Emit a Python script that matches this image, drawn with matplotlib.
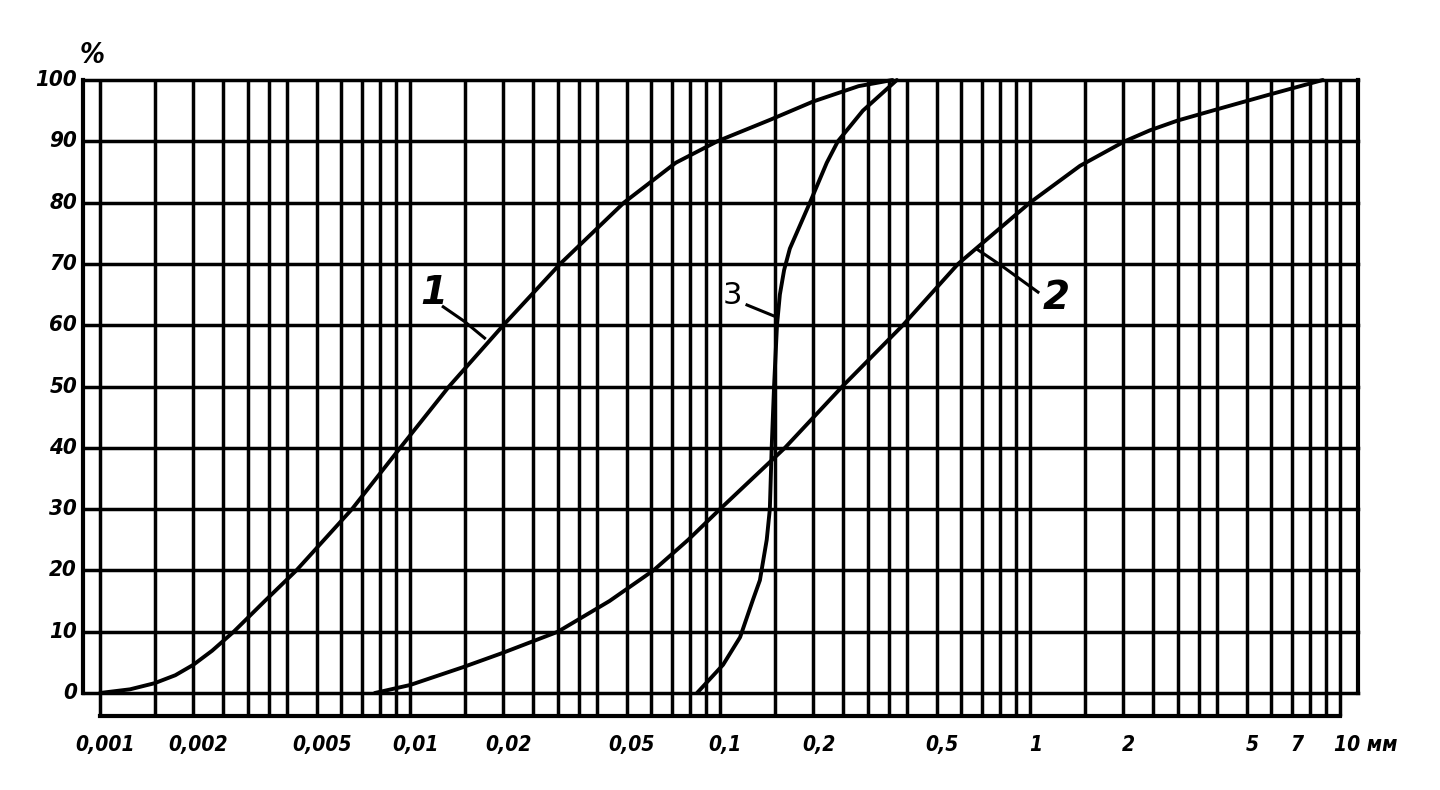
import numpy as np
import matplotlib
matplotlib.use("Agg")
import matplotlib.pyplot as plt
from matplotlib import font_manager

# гранулометрические кривые (диаметр частиц, мм / содержание, %)
x1 = [0.001, 0.00125, 0.0015, 0.00175, 0.002, 0.0023, 0.0027, 0.0034, 0.0043,
      0.0065, 0.0093, 0.01336, 0.020, 0.0305, 0.049, 0.072, 0.098,
      0.145, 0.20, 0.28, 0.36]
y1 = [0, 0.6, 1.6, 2.9, 4.6, 6.9, 10, 15, 20,
      30, 40, 50, 60, 70, 80, 86.5, 90,
      93.5, 96.5, 99, 100]

x2 = [0.0077, 0.010, 0.0148, 0.0198, 0.030, 0.044, 0.061, 0.079, 0.10, 0.162,
      0.248, 0.389, 0.586, 1.0, 1.45, 2.02, 2.44, 3.0, 4.0, 5.9, 7.7, 8.8]
y2 = [0, 1.3, 4.2, 6.5, 10, 15, 20, 25, 30, 40,
      50, 60, 70, 80, 86, 90, 91.8, 93.4, 95.2, 97.6, 99.2, 100]

x3 = [0.0843, 0.1023, 0.1161, 0.1277, 0.1345, 0.1415, 0.1448, 0.1468, 0.1494,
      0.1527, 0.156, 0.161, 0.168, 0.195, 0.221, 0.240, 0.289, 0.372]
y3 = [0, 4.6, 9.1, 15.2, 18.4, 25, 30, 40, 50,
      60, 65, 69, 72.5, 80, 86.5, 90, 95, 100]

# сетка логарифмической бумаги
grid_mult = [1, 1.5, 2, 2.5, 3, 3.5, 4, 5, 6, 7, 8, 9]
decades = [0.001, 0.01, 0.1, 1]
y_grid = list(range(0, 101, 10))

x_ticks = [0.001, 0.002, 0.005, 0.01, 0.02, 0.05, 0.1, 0.2, 0.5, 1, 2, 5, 7]
x_tick_labels = ["0,001", "0,002", "0,005", "0,01", "0,02", "0,05", "0,1",
                 "0,2", "0,5", "1", "2", "5", "7"]

curve_names = ["1", "2", "3"]


def px_to_x(px):
    # 310 px на декаду, 0.001 мм на 100 px
    return 10 ** (-3 + (px - 100) / 310.0)


def py_to_y(py):
    return (693 - py) / 6.13


# узкий шрифт, если есть
names = {f.name for f in font_manager.fontManager.ttflist}
hand = "DejaVu Sans"
for cand in ["Liberation Sans Narrow", "DejaVu Sans Condensed"]:
    if cand in names:
        hand = cand
        break

fig = plt.figure(figsize=(14.4, 7.9), dpi=100)
ax = fig.add_axes([40 / 1440, 1 - 770 / 790, 1380 / 1440, 730 / 790])
ax.set_xscale("log")
ax.set_xlim(px_to_x(40), px_to_x(1420))
ax.set_ylim(py_to_y(770), py_to_y(40))
ax.axis("off")

lw_grid = 2.5
x_left = px_to_x(83)
x_right = px_to_x(1358)
y_strip = py_to_y(716)

grid_x = [m * d for d in decades for m in grid_mult] + [10]
for gx in grid_x:
    ax.plot([gx, gx], [y_strip, 100], color="black", lw=lw_grid, solid_capstyle="butt")
for gy in y_grid:
    ax.plot([x_left, x_right], [gy, gy], color="black", lw=lw_grid, solid_capstyle="projecting")

# рамка
ax.plot([x_left, x_left], [0, 100], color="black", lw=3, solid_capstyle="projecting")
ax.plot([x_right, x_right], [0, 100], color="black", lw=3, solid_capstyle="projecting")
ax.plot([0.001, 10], [y_strip, y_strip], color="black", lw=3, solid_capstyle="projecting")

# кривые
for xs, ys in [(x1, y1), (x2, y2), (x3, y3)]:
    ax.plot(xs, ys, color="black", lw=2.8, solid_capstyle="round", solid_joinstyle="round")

# подписи кривых с выносками
ax.text(0.0119, 65.3, curve_names[0], fontsize=28, family=hand, style="italic",
        weight="bold", ha="center", va="center")
ax.plot([0.0128, 0.0150, 0.0174], [63.0, 60.6, 57.9], color="black", lw=2.2)

ax.text(1.213, 64.4, curve_names[1], fontsize=28, family=hand, style="italic",
        weight="bold", ha="center", va="center")
ax.plot([1.061, 0.82, 0.679], [65.4, 69.5, 72.3], color="black", lw=2.2)

ax.text(0.110, 64.8, curve_names[2], fontsize=22, family=hand,
        ha="center", va="center")
ax.plot([0.1222, 0.1527], [63.3, 61.3], color="black", lw=2.2)

# подписи осей
lab = dict(family=hand, style="italic", weight="bold", stretch="condensed")
for gy in y_grid:
    ax.text(px_to_x(77), gy, str(gy), ha="right", va="center", fontsize=16, **lab)
ax.text(px_to_x(92), py_to_y(55), "%", ha="center", va="center", fontsize=20, **lab)

for tx, tl in zip(x_ticks, x_tick_labels):
    ax.text(tx * 1.04, py_to_y(745), tl, ha="center", va="center", fontsize=15, **lab)
ax.text(px_to_x(1334), py_to_y(745), "10 мм", ha="left", va="center", fontsize=15, **lab)

fig.savefig("out.png", dpi=100, facecolor="white")
